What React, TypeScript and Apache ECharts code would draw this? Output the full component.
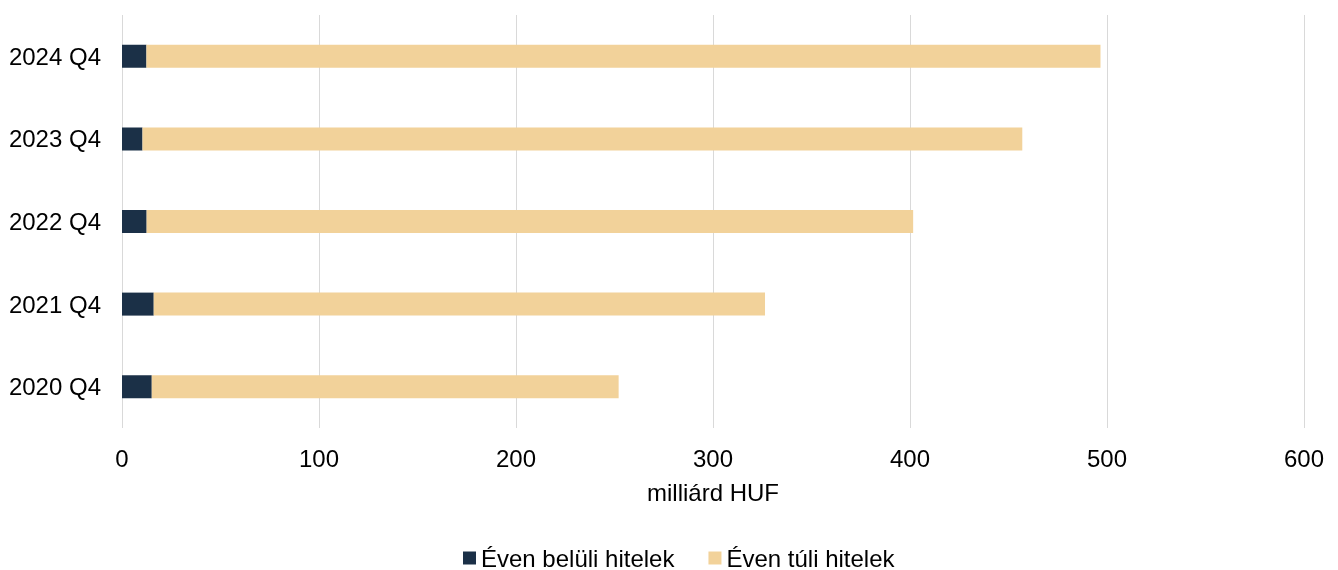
import React, { useEffect, useRef } from "react";
import * as echarts from "echarts";

const categories = ["2020 Q4", "2021 Q4", "2022 Q4", "2023 Q4", "2024 Q4"];
const withinYear = [15.1, 16.1, 12.5, 10.4, 12.4];
const beyondYear = [237.0, 310.3, 389.1, 446.6, 484.3];
const xTicks = { min: 0, max: 600, interval: 100 };
const seriesNames = ["Éven belüli hitelek", "Éven túli hitelek"];
const axisName = "milliárd HUF";

export default function App() {
  const ref = useRef<HTMLDivElement>(null);
  useEffect(() => {
    if (!ref.current) return;
    const chart = echarts.init(ref.current, undefined, { renderer: "svg" });
    const font = "'Liberation Sans', Arial, sans-serif";
    chart.setOption({
      animation: false,
      textStyle: { fontFamily: font },
      grid: { left: 122, right: 34, top: 15, bottom: 142, containLabel: false },
      legend: {
        top: 541,
        left: 458,
        itemWidth: 13,
        itemHeight: 13,
        itemGap: 34,
        icon: "rect",
        textStyle: { fontSize: 24, color: "#000", fontFamily: font },
        data: seriesNames,
      },
      xAxis: {
        type: "value",
        min: xTicks.min,
        max: xTicks.max,
        interval: xTicks.interval,
        name: axisName,
        nameLocation: "middle",
        nameGap: 52,
        nameTextStyle: { fontSize: 24, color: "#000", fontFamily: font },
        axisLine: { show: false },
        axisTick: { show: false },
        axisLabel: { fontSize: 24, color: "#000", margin: 18, fontFamily: font },
        splitLine: { show: true, lineStyle: { color: "#d9d9d9", width: 1 } },
      },
      yAxis: {
        type: "category",
        data: categories,
        axisLine: { show: false },
        axisTick: { show: false },
        axisLabel: { fontSize: 24, color: "#000", margin: 21, fontFamily: font },
      },
      series: [
        {
          name: seriesNames[0],
          type: "bar",
          stack: "total",
          data: withinYear,
          barWidth: 23,
          itemStyle: { color: "#1b3047" },
        },
        {
          name: seriesNames[1],
          type: "bar",
          stack: "total",
          data: beyondYear,
          barWidth: 23,
          itemStyle: { color: "#f2d29a" },
        },
      ],
    });
    return () => chart.dispose();
  }, []);
  return (
    <div
      ref={ref}
      style={{ position: "fixed", left: 0, top: 0, width: 1338, height: 570 }}
    />
  );
}
